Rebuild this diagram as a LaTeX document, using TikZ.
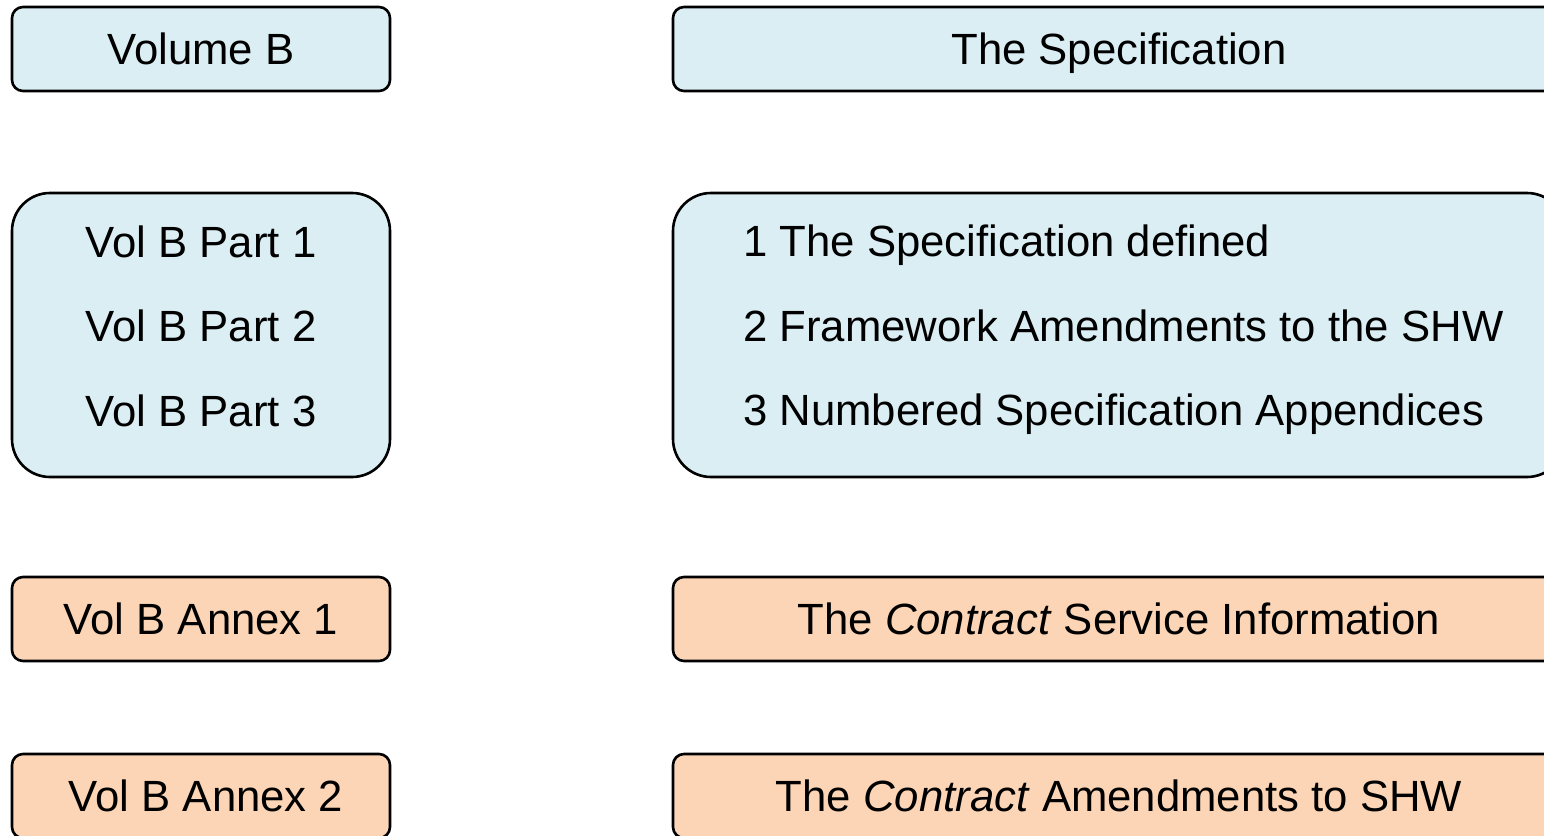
\documentclass[tikz,border=0pt]{standalone}
\usepackage{fontspec}
\setmainfont{Liberation Sans}
\usepackage{tikz}
\usetikzlibrary{positioning}
\definecolor{PaleBlue}{HTML}{DAEEF3}
\definecolor{PaleOrange}{HTML}{FBD5B5}

\begin{document}
\begin{tikzpicture}[x=1pt, y=-1pt,
    every node/.style={font=\fontsize{43.7}{84.5}\selectfont},
    blockbox/.style={draw=black, line width=2.6pt, rounded corners=11pt, minimum height=84pt, inner sep=0pt, text height=31pt, text depth=0pt},
    bigbox/.style={draw=black, line width=2.6pt, rounded corners=38pt, minimum height=284pt, inner sep=0pt},
    leftcol/.style={minimum width=378pt},
    rightcol/.style={minimum width=892pt}]
    \useasboundingbox (0,0) rectangle (1544,835);
    % top row
    \node[blockbox, leftcol, fill=PaleBlue] (volb) at (201,49) {Volume B};
    \node[blockbox, rightcol, fill=PaleBlue] (spec) at (1119,49) {The Specification};
    % parts
    \node[bigbox, leftcol, fill=PaleBlue] (partsbox) at (201,335) {};
    \node[align=center, inner sep=0pt] (parts) at (201,326) {Vol B Part 1\\Vol B Part 2\\Vol B Part 3};
    \node[bigbox, rightcol, fill=PaleBlue] (specbox) at (1119,335) {};
    \node[align=left, anchor=west, inner sep=0pt] (speclines) at (743,330) {1 The Specification defined\\2 Framework Amendments to the SHW\\3 Numbered Specification Appendices};
    % annexes
    \node[blockbox, leftcol, fill=PaleOrange] (annexa) at (201,619) {Vol B Annex 1};
    \node[blockbox, rightcol, fill=PaleOrange] (servinfo) at (1119,619) {The \textit{Contract} Service Information};
    \node[blockbox, leftcol, fill=PaleOrange] (annexb) at (201,796) {\hspace{10pt}Vol B Annex 2};
    \node[blockbox, rightcol, fill=PaleOrange] (amends) at (1119,796) {The \textit{Contract} Amendments to SHW};
\end{tikzpicture}
\end{document}
